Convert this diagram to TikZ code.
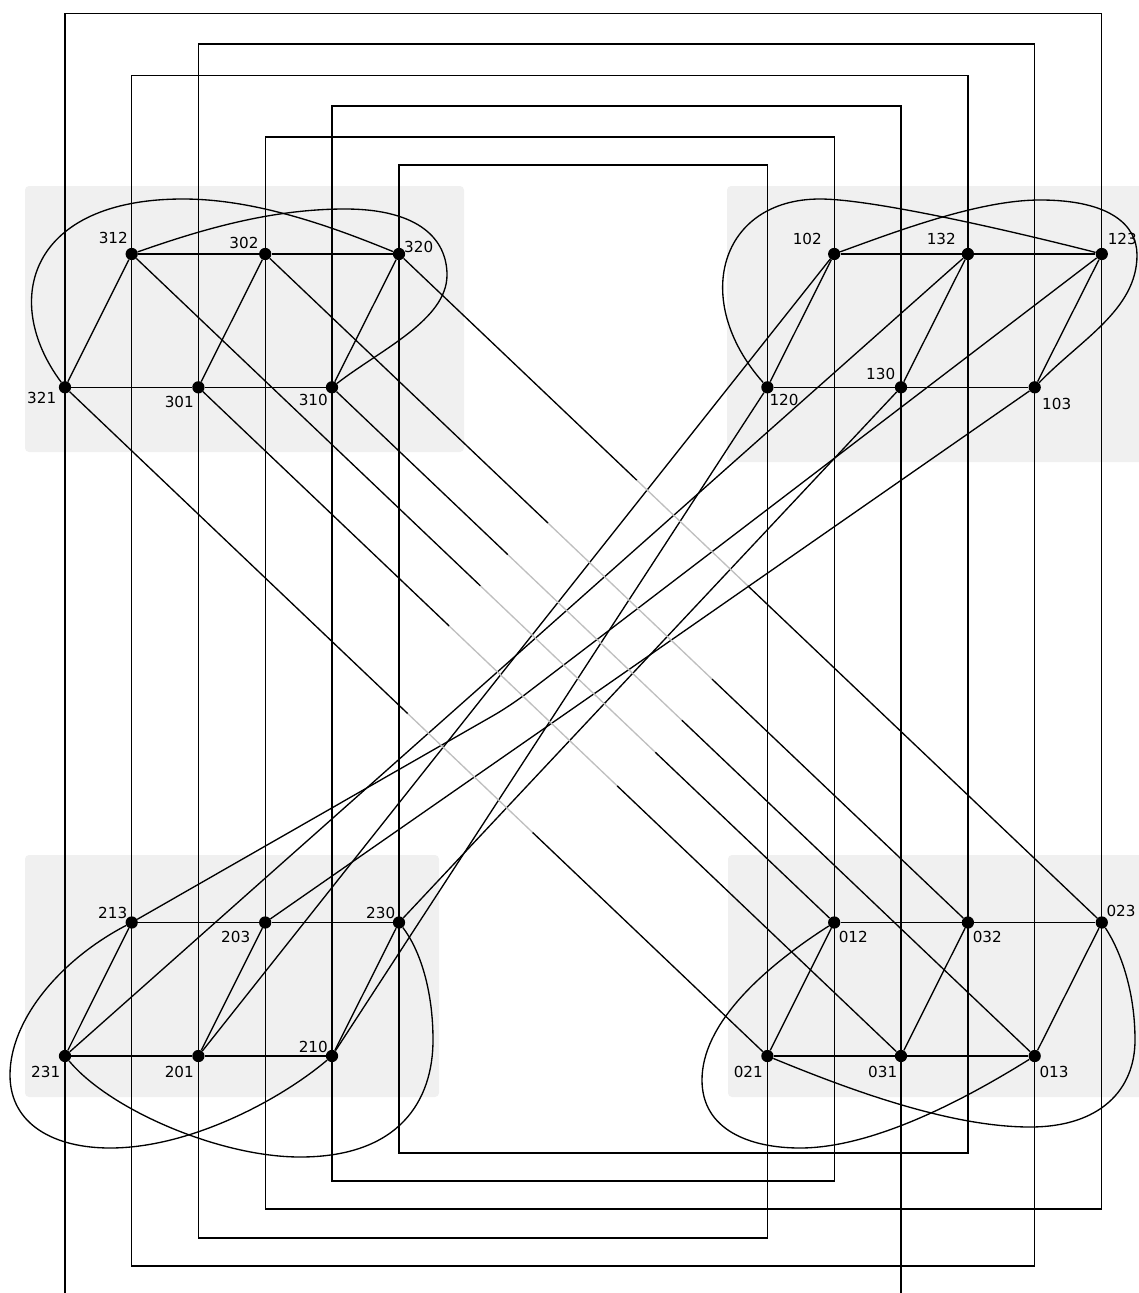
\documentclass[tikz,border=0pt]{standalone}
\usepackage{fontspec}
\setmainfont{DejaVu Sans}
\usetikzlibrary{calc}
\begin{document}
\begin{tikzpicture}[x=0.75pt,y=-0.75pt,
  dot/.style={circle,fill=black,inner sep=0pt,minimum size=9.2pt},
  lbl/.style={inner sep=0pt,font=\fontsize{11.4}{13}\selectfont},
  wire/.style={line width=1pt,black},
  edge/.style={line width=1pt,black},
  hidden/.style={line width=1pt,black!25},
  panel/.style={fill=black!6,rounded corners=3pt,draw=none}]
\useasboundingbox (0,0) rectangle (1139,1293);
% panels
\fill[panel] (25,186) rectangle (464,452);
\fill[panel] (727,186) rectangle (1150,462);
\fill[panel] (25,855) rectangle (439,1097);
\fill[panel] (728,855) rectangle (1150,1097);
% level coordinates for the wires
\coordinate (t1) at (0,13.3);
\coordinate (t2) at (0,44);
\coordinate (t3) at (0,75.3);
\coordinate (t4) at (0,106);
\coordinate (t5) at (0,137);
\coordinate (t6) at (0,165);
\coordinate (b1) at (0,1153);
\coordinate (b2) at (0,1181);
\coordinate (b3) at (0,1209);
\coordinate (b4) at (0,1238);
\coordinate (b5) at (0,1266);
\coordinate (bot) at (0,1300);
% nodes: top-left
\node[dot] (n312) at (131.7,254) {};
\node[dot] (n302) at (265.2,254) {};
\node[dot] (n320) at (399,254) {};
\node[dot] (n321) at (65,387.3) {};
\node[dot] (n301) at (198.4,387.3) {};
\node[dot] (n310) at (332,387.3) {};
% top-right
\node[dot] (n102) at (834.2,254) {};
\node[dot] (n132) at (967.9,254) {};
\node[dot] (n123) at (1101.8,254) {};
\node[dot] (n120) at (767.4,387.3) {};
\node[dot] (n130) at (901,387.3) {};
\node[dot] (n103) at (1034.7,387.3) {};
% bottom-left
\node[dot] (n213) at (131.7,922.5) {};
\node[dot] (n203) at (265.2,922.5) {};
\node[dot] (n230) at (399,922.5) {};
\node[dot] (n231) at (65,1056) {};
\node[dot] (n201) at (198.4,1056) {};
\node[dot] (n210) at (332,1056) {};
% bottom-right
\node[dot] (n012) at (834.2,922.5) {};
\node[dot] (n032) at (967.9,922.5) {};
\node[dot] (n023) at (1101.8,922.5) {};
\node[dot] (n021) at (767.4,1056) {};
\node[dot] (n031) at (901,1056) {};
\node[dot] (n013) at (1034.7,1056) {};
% labels
\node[lbl] (l312) at (113.3,238.3) {312};
\node[lbl] (l302) at (244,243.3) {302};
\node[lbl] (l320) at (418.7,246.7) {320};
\node[lbl] (l321) at (41.7,398.3) {321};
\node[lbl] (l301) at (179.3,401.7) {301};
\node[lbl] (l310) at (313.3,399.7) {310};
\node[lbl] (l102) at (807.3,239.3) {102};
\node[lbl] (l132) at (941.3,239.3) {132};
\node[lbl] (l123) at (1122.3,239.3) {123};
\node[lbl] (l120) at (784,400) {120};
\node[lbl] (l130) at (880.7,374) {130};
\node[lbl] (l103) at (1056.7,404.3) {103};
\node[lbl] (l213) at (112.7,913.3) {213};
\node[lbl] (l203) at (235.7,937.3) {203};
\node[lbl] (l230) at (380.7,913.3) {230};
\node[lbl] (l231) at (45.7,1071.7) {231};
\node[lbl] (l201) at (179.3,1071.7) {201};
\node[lbl] (l210) at (313.3,1047.3) {210};
\node[lbl] (l012) at (853.3,937.3) {012};
\node[lbl] (l032) at (987.3,937.3) {032};
\node[lbl] (l023) at (1121,910.7) {023};
\node[lbl] (l021) at (748.3,1071.7) {021};
\node[lbl] (l031) at (882.7,1071.7) {031};
\node[lbl] (l013) at (1054,1071.7) {013};
% wires
\draw[wire] (n231 |- bot) -- (n231.center) -- (n321.center) -- (n321 |- t1) -- (n123 |- t1)
  -- (n123.center) -- (n023.center) -- (n023 |- b3) -- (n203 |- b3) -- (n203.center)
  -- (n302.center) -- (n302 |- t5) -- (n102 |- t5) -- (n102.center) -- (n012.center)
  -- (n012 |- b2) -- (n210 |- b2) -- (n210.center) -- (n310.center) -- (n310 |- t4)
  -- (n130 |- t4) -- (n130.center) -- (n031.center) -- (n031 |- bot);
\draw[wire] (n312.center) -- (n213.center) -- (n213 |- b5) -- (n013 |- b5) -- (n013.center)
  -- (n103.center) -- (n103 |- t2) -- (n301 |- t2) -- (n301.center) -- (n201.center)
  -- (n201 |- b4) -- (n021 |- b4) -- (n021.center) -- (n120.center) -- (n120 |- t6)
  -- (n320 |- t6) -- (n320.center) -- (n230.center) -- (n230 |- b1) -- (n032 |- b1)
  -- (n032.center) -- (n132.center) -- (n132 |- t3) -- (n312 |- t3) -- cycle;
% group edges
\foreach \a/\b in {n312/n302,n302/n320,n321/n301,n301/n310,n312/n321,n302/n301,n320/n310,
  n102/n132,n132/n123,n120/n130,n130/n103,n102/n120,n132/n130,n123/n103,
  n213/n203,n203/n230,n231/n201,n201/n210,n213/n231,n203/n201,n230/n210,
  n012/n032,n032/n023,n021/n031,n031/n013,n012/n021,n032/n031,n023/n013}
  {\draw[edge] (\a) -- (\b);}
% loops
\draw[edge] (n321) .. controls (0,300) and (30,199) .. (183,199) .. controls (260,199) and (340,230) .. (n320);
\draw[edge] (n312) .. controls (200,230) and (270,209) .. (345,209) .. controls (420,209) and (447,240) .. (447,275) .. controls (447,320) and (380,350) .. (n310);
\draw[edge] (n120) .. controls (690,300) and (720,199) .. (820,199) .. controls (870,199) and (1000,228) .. (n123);
\draw[edge] (n102) .. controls (900,230) and (980,200) .. (1040,200) .. controls (1110,200) and (1137,225) .. (1137,255) .. controls (1137,310) and (1080,340) .. (n103);
\draw[edge] (n213) .. controls (60,960) and (10,1020) .. (10,1075) .. controls (10,1125) and (55,1148) .. (110,1148) .. controls (190,1148) and (280,1100) .. (n210);
\draw[edge] (n231) .. controls (110,1110) and (220,1157) .. (300,1157) .. controls (400,1157) and (433,1100) .. (433,1040) .. controls (433,990) and (420,950) .. (n230);
\draw[edge] (n012) .. controls (760,970) and (702,1025) .. (702,1080) .. controls (702,1130) and (750,1148) .. (800,1148) .. controls (880,1148) and (980,1090) .. (n013);
\draw[edge] (n021) .. controls (850,1090) and (950,1127) .. (1030,1127) .. controls (1100,1127) and (1135,1090) .. (1135,1040) .. controls (1135,990) and (1120,950) .. (n023);
% long up-right edges
\foreach \a/\b in {n102/n201,n132/n231,n120/n210,n130/n230,n103/n203}
  {\draw[edge] (\a) -- (\b);}
\coordinate (kink) at (510,706);
\draw[edge,rounded corners=14pt] (n123) -- (kink) -- (n213);
% long down-right edges with hidden middle parts
\foreach \a/\b/\f/\g in {n320/n023/0.3385/0.4964, n302/n032/0.4026/0.6358,
  n310/n013/0.2504/0.4979, n312/n012/0.4964/0.7454,
  n301/n031/0.357/0.596, n321/n021/0.488/0.6657}
  {\draw[edge] (\a) -- ($(\a)!\f!(\b)$);
   \draw[hidden] ($(\a)!\f!(\b)$) -- ($(\a)!\g!(\b)$);
   \draw[edge] ($(\a)!\g!(\b)$) -- (\b);}
\end{tikzpicture}
\end{document}
